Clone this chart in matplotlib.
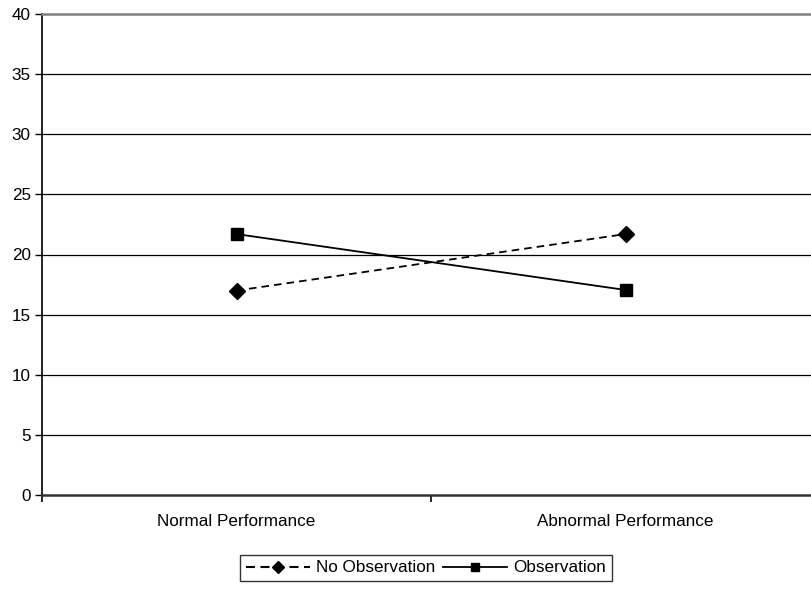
import matplotlib
matplotlib.use("Agg")
import matplotlib.pyplot as plt
from matplotlib.lines import Line2D

categories = ["Normal Performance", "Abnormal Performance"]
no_observation = [17.0, 21.7]
observation = [21.7, 17.05]
yticks = [0, 5, 10, 15, 20, 25, 30, 35, 40]

plt.rcParams['font.family'] = ['Liberation Sans', 'DejaVu Sans']

W, H = 811, 592
fig = plt.figure(figsize=(W / 100, H / 100), dpi=100)
left, right, top, bottom = 42, 820, 14, 495
ax = fig.add_axes([left / W, (H - bottom) / H, (right - left) / W, (bottom - top) / H])

x = [0.5, 1.5]
ax.plot(x, no_observation, color='black', lw=1.3, dashes=(4.2, 2.8), marker='D',
        markersize=8, markerfacecolor='black', markeredgecolor='black', label='No Observation',
        clip_on=False, zorder=3)
ax.plot(x, observation, color='black', lw=1.3, marker='s',
        markersize=8, markerfacecolor='black', markeredgecolor='black', label='Observation',
        clip_on=False, zorder=3)

ax.set_xlim(0, 2)
ax.set_ylim(0, 40)
ax.set_yticks(yticks)
ax.set_yticklabels([str(v) for v in yticks], fontsize=12.3)
for yv in yticks[1:-1]:
    ax.axhline(yv, color='black', lw=0.9, zorder=1)

ax.set_xticks([0, 1, 2])
ax.set_xticklabels([])
ax.set_xticks(x, minor=True)
ax.set_xticklabels(categories, minor=True, fontsize=12.3)
ax.tick_params(axis='x', which='minor', length=0, pad=14)
ax.tick_params(axis='x', which='major', length=5, width=1.2, direction='out', color='black')
ax.tick_params(axis='y', length=5, width=1, direction='out', pad=3)

ax.spines['left'].set_color('black')
ax.spines['left'].set_linewidth(1.2)
ax.spines['bottom'].set_color('#333333')
ax.spines['bottom'].set_linewidth(1.8)
ax.spines['top'].set_color('#808080')
ax.spines['top'].set_linewidth(1.8)
ax.spines['right'].set_color('#808080')
ax.spines['right'].set_linewidth(1.8)

handles = [
    Line2D([], [], color='black', lw=1.5, dashes=(4.32, 2.64), marker='D', markersize=6,
           markerfacecolor='black', markeredgecolor='black'),
    Line2D([], [], color='black', lw=1.3, marker='s', markersize=6,
           markerfacecolor='black', markeredgecolor='black'),
]
leg = fig.legend(handles, ['No Observation', 'Observation'], loc='center',
                 bbox_to_anchor=((242 + 610) / 2 / W, 1 - 568 / H), ncol=2,
                 fontsize=12.3, frameon=True, fancybox=False, edgecolor='black',
                 handlelength=3.746, handletextpad=0.35, columnspacing=0.45,
                 borderpad=0.35, borderaxespad=0)
leg.get_frame().set_linewidth(1.0)

fig.savefig('out.png', dpi=100)
